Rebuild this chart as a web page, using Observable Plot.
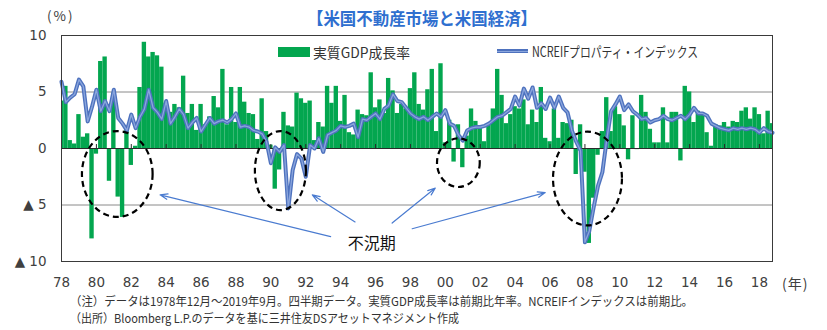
<!DOCTYPE html>
<html><head><meta charset="utf-8">
<script src="https://cdn.jsdelivr.net/npm/d3@7"></script>
<script src="https://cdn.jsdelivr.net/npm/@observablehq/plot@0.6"></script>
<style>
body{margin:0;background:#fff;}
#wrap{position:relative;width:827px;height:330px;overflow:hidden;font-family:"Noto Sans CJK JP","Noto Sans",sans-serif;}
#wrap svg{position:absolute;left:0;top:0;}
.abs{position:absolute;white-space:nowrap;line-height:1;transform-origin:left center;}
</style></head><body><div id="wrap"></div>
<script>
// Real GDP growth (q/q annualized, %), one bar per quarter position, 78Q3 ... 19Q2
const gdp = [
  4.2, 5.5,
  0.7, 0.4, 3.0, 1.0,
  1.3, -8.0, -0.5, 7.7,
  8.1, -2.9, 4.9, -4.3,
  -6.1, 1.8, -1.5, 0.2,
  5.4, 9.4, 8.1, 8.5,
  8.2, 7.2, 4.0, 3.2,
  3.9, 3.6, 6.4, 3.1,
  3.9, 1.6, 3.9, 2.1,
  2.8, 4.6, 3.6, 7.0,
  2.1, 5.4, 2.3, 5.4,
  4.1, 3.1, 3.0, 0.8,
  4.4, 1.5, 0.3, -3.6,
  -1.9, 3.2, 2.0, 1.9,
  4.9, 4.4, 4.0, 4.2,
  0.7, 2.3, 1.9, 5.5,
  4.0, 5.5, 2.4, 4.7,
  1.4, 1.2, 3.4, 3.0,
  2.9, 6.7, 3.6, 4.3,
  3.1, 6.2, 5.1, 3.1,
  3.9, 3.5, 5.3, 6.7,
  3.9, 3.4, 5.2, 7.0,
  1.5, 7.5, 0.5, 2.5,
  -1.2, 2.1, -1.7, 1.1,
  3.5, 2.4, 1.8, 0.6,
  2.2, 3.5, 7.0, 4.7,
  2.2, 3.0, 3.7, 3.5,
  4.3, 2.1, 3.4, 2.3,
  5.4, 0.9, 0.6, 3.5,
  0.9, 2.3, 2.2, 2.5,
  -2.3, 2.1, -2.1, -8.4,
  -4.4, -0.6, 1.5, 4.5,
  1.5, 3.7, 3.0, 2.0,
  -1.0, 2.9, -0.1, 4.7,
  3.2, 1.7, 0.5, 0.5,
  3.6, 0.5, 3.2, 3.2,
  -1.1, 5.5, 5.0, 2.3,
  3.3, 3.0, 1.4, 0.2,
  2.1, 2.0, 2.3, 1.9,
  2.4, 2.3, 3.3, 3.6,
  2.6, 3.6, 3.0, 1.3,
  3.3, 2.2
];
// NCREIF Property Index (q/q, %), Dec 1978 ... Sep 2019
const ncreif = [
  5.9, 4.1, 4.5, 4.8, 6.1, 5.5, 2.4, 3.7, 5.2, 3.3,
  4.2, 3.3, 5.2, 2.7, 2.2, 1.6, 3.0, 1.8, 2.8, 3.5,
  5.2, 3.6, 3.2, 2.6, 4.2, 2.2, 2.8, 3.5, 3.0, 1.8,
  2.3, 2.7, 1.5, 2.1, 2.7, 2.2, 2.4, 2.5, 2.3, 2.6,
  3.1, 1.9, 2.0, 1.9, 1.6, 1.5, 1.3, 0.6, -1.3, 0.1,
  -0.3, 0.3, -5.3, -1.9, -0.5, -0.9, -2.5, 0.3, 0.0, 0.9,
  -0.3, 1.2, 1.4, 1.6, 2.0, 1.9, 2.0, 2.2, 1.0, 2.6,
  2.5, 2.8, 3.1, 2.6, 3.5, 3.8, 4.8, 4.2, 4.1, 3.6,
  3.1, 2.8, 2.6, 2.8, 2.5, 2.8, 3.1, 2.8, 3.4, 2.2,
  2.0, 1.2, 0.7, 1.6, 1.8, 1.9, 1.9, 2.0, 2.2, 2.5,
  2.8, 2.9, 3.2, 3.5, 4.6, 3.8, 5.3, 4.4, 5.4, 3.6,
  4.0, 3.5, 4.5, 3.6, 4.6, 3.6, 3.2, 1.6, 0.6, -0.2,
  -8.3, -7.3, -5.2, -3.3, -2.1, 0.8, 3.3, 3.9, 4.6, 3.4,
  3.9, 3.3, 3.0, 2.6, 2.7, 2.3, 2.5, 2.6, 2.9, 2.6,
  2.5, 2.7, 2.9, 2.6, 3.0, 3.6, 3.1, 3.1, 2.9, 2.2,
  2.0, 1.8, 1.7, 1.6, 1.8, 1.7, 1.8, 1.7, 1.8, 1.7,
  1.4, 1.8, 1.5, 1.4
];
const yearLabels = ["78","80","82","84","86","88","90","92","94","96","98","00","02","04","06","08","10","12","14","16","18"];
const quartersPerLabel = 8;
const yTicks = [10, 5, 0, -5, -10];
const gridValues = [5, -5];
// recession annotations, in data units (quarter position, %)
const recessions = [
  {k: 12.9, v: -2.3, rk: 8.1, rv: 3.8},
  {k: 50.3, v: -2.0, rk: 5.85, rv: 3.5},
  {k: 91.1, v: -1.3, rk: 4.9, rv: 2.15},
  {k: 120.7, v: -2.7, rk: 7.9, rv: 4.15}
];
const arrows = [
  {k1: 61.7, v1: -7.8, k2: 22.6, v2: -4.1},
  {k1: 67.3, v1: -6.5, k2: 57.5, v2: -4.1},
  {k1: 75.8, v1: -6.6, k2: 85.7, v2: -3.5},
  {k1: 80.4, v1: -7.1, k2: 110.9, v2: -3.9}
];
const recessionLabel = [{k: 71.1, v: -8.4, text: "不況期"}];

const lastPos = ncreif.length - 1;
const gdpRows = gdp.map((v, i) => ({i, v}));
const reitRows = ncreif.map((v, i) => ({i, v}));
const tickPos = yearLabels.map((_, j) => j * quartersPerLabel);

const GREEN = "#03a64f", BLUE = "#4e72be", BLUE2 = "#8ba6dd";

function ellipseMark(index, scales) {
  const g = d3.create("svg:g");
  for (const e of recessions) {
    const cx = scales.x(e.k), cy = scales.y(e.v);
    const rx = Math.abs(scales.x(e.k + e.rk) - cx), ry = Math.abs(scales.y(e.v + e.rv) - cy);
    g.append("ellipse").attr("cx", cx).attr("cy", cy).attr("rx", rx).attr("ry", ry)
      .attr("fill", "none").attr("stroke", "#000").attr("stroke-width", 2.2).attr("stroke-dasharray", "6,4");
  }
  return g.node();
}

const plot = Plot.plot({
  width: 827, height: 292,
  marginLeft: 61, marginRight: 55, marginTop: 35, marginBottom: 31,
  style: {fontFamily: "DejaVu Sans, sans-serif", fontSize: "13.5px", color: "#404040", background: "transparent"},
  x: {domain: [0, lastPos], ticks: tickPos, tickFormat: i => yearLabels[i / quartersPerLabel], tickSize: 0, tickPadding: 16, label: null},
  y: {domain: [-10, 10], ticks: yTicks, tickFormat: v => v < 0 ? "▲ " + Math.abs(v) : String(v), tickSize: 0, tickPadding: 15, label: null},
  marks: [
    Plot.ruleY(gridValues, {stroke: "#8a8a8a", strokeWidth: 1}),
    Plot.rectY(gdpRows, {x1: d => Math.max(d.i - 0.5, 0), x2: d => Math.min(d.i + 0.5, lastPos), y1: 0, y2: "v", fill: GREEN, inset: 0}),
    Plot.ruleY([0], {stroke: "#2a2a2a", strokeWidth: 1.2}),
    Plot.ruleX(tickPos.slice(1), {y1: 0, y2: 0.35, stroke: "#2a2a2a"}),
    Plot.line(reitRows, {x: "i", y: "v", stroke: BLUE, strokeWidth: 4, strokeLinejoin: "round"}),
    Plot.line(reitRows, {x: "i", y: "v", stroke: BLUE2, strokeWidth: 1.3, strokeLinejoin: "round"}),
    ellipseMark,
    Plot.arrow(arrows, {x1: "k1", y1: "v1", x2: "k2", y2: "v2", stroke: "#4a7bd0", strokeWidth: 1.2, headLength: 10, headAngle: 40}),
    Plot.text(recessionLabel, {x: "k", y: "v", text: "text", fontSize: 16, fill: "#111", fontFamily: "Noto Sans CJK JP"}),
    Plot.frame({stroke: "#3a3a3a", strokeWidth: 1})
  ]
});
const wrap = document.getElementById("wrap");
wrap.appendChild(plot);

const fits = [];
function addText(text, o) {
  const el = document.createElement("div");
  el.className = "abs";
  el.textContent = text;
  el.style.fontSize = o.size + "px";
  el.style.color = o.color || "#333";
  if (o.weight) el.style.fontWeight = o.weight;
  if (o.spacing) el.style.letterSpacing = o.spacing + "px";
  el.style.left = o.left + "px";
  el.style.top = (o.cy - o.size / 2) + "px";
  wrap.appendChild(el);
  if (o.width) fits.push([el, o.width]);
  return el;
}
function addBox(o) {
  const el = document.createElement("div");
  el.style.position = "absolute";
  Object.assign(el.style, {left: o.left + "px", top: o.top + "px", width: o.width + "px", height: o.height + "px", background: o.bg});
  wrap.appendChild(el);
}
addText("【米国不動産市場と米国経済】", {left: 307, cy: 17.5, size: 17, color: "#2f6fcf", weight: "bold", width: 230});
addText("(%)", {left: 47, cy: 15.5, size: 13.5, color: "#404040", spacing: 2});
addBox({left: 278, top: 46.5, width: 32, height: 10, bg: GREEN});
addText("実質GDP成長率", {left: 313, cy: 52, size: 14, color: "#333", width: 97});
addBox({left: 497, top: 49, width: 31, height: 4, bg: BLUE});
addBox({left: 497, top: 50.5, width: 31, height: 1.2, bg: BLUE2});
addText("NCREIFプロパティ・インデックス", {left: 532, cy: 51, size: 14, color: "#333", width: 166});
addText("(年)", {left: 782, cy: 283, size: 14, color: "#404040", spacing: 1});
addText("（注）データは1978年12月～2019年9月。四半期データ。実質GDP成長率は前期比年率。NCREIFインデックスは前期比。", {left: 70, cy: 300.5, size: 12, color: "#333", width: 623});
addText("（出所）Bloomberg L.P.のデータを基に三井住友DSアセットマネジメント作成", {left: 70, cy: 318, size: 12, color: "#333", width: 389});

function applyFits() {
  for (const [el, w] of fits) {
    el.style.transform = "none";
    const cur = el.getBoundingClientRect().width;
    if (cur > 0) el.style.transform = `scaleX(${w / cur})`;
  }
}
applyFits();
if (document.fonts && document.fonts.ready) document.fonts.ready.then(applyFits);
</script>
</body></html>
